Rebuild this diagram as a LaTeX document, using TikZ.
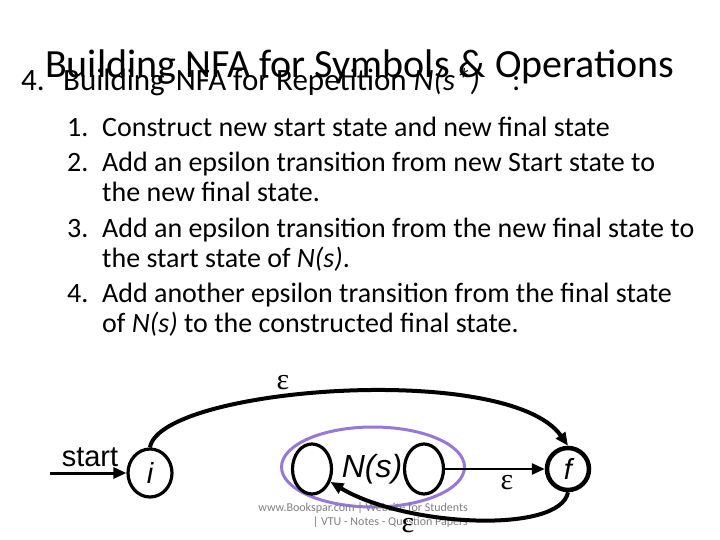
\documentclass[tikz,border=0pt]{standalone}
\usepackage{fontspec}
\setmainfont{Carlito}
\newfontfamily\arialfont{Liberation Sans}
\newfontfamily\greekfont{Liberation Serif}
\usetikzlibrary{arrows.meta,shapes.geometric}
\definecolor{nsring}{RGB}{150,120,220}

\begin{document}
\begin{tikzpicture}[x=1pt, y=1pt, >={Triangle[length=13pt,width=11pt]},
  line/.style={anchor=base west, inner sep=0pt, font=\fontsize{28}{34}\selectfont},
  nfastate/.style={draw, ellipse, line width=3.2pt, inner sep=0pt, font=\arialfont\itshape\fontsize{29}{29}\selectfont},
  eps/.style={inner sep=0pt, font=\greekfont\fontsize{30}{30}\selectfont}]
\useasboundingbox (0,0) rectangle (720,-540);

\node[anchor=base west, inner sep=0pt, font=\fontsize{40}{48}\selectfont] (title) at (45,-78) {Building NFA for Symbols \& Operations};
\node[anchor=base west, inner sep=0pt, font=\fontsize{31}{36}\selectfont] (head) at (21,-91) {\makebox[42pt][l]{4.}Building\hspace{4pt} NFA for Repetition \textit{N(s*)}\hspace{32pt}:};

\node[line] (l1) at (67,-137) {\makebox[35pt][l]{1.}Construct new start state and new final state};
\node[line] (l2) at (67,-172) {\makebox[35pt][l]{2.}Add an epsilon transition from new Start state to};
\node[line] (l2b) at (102,-202) {the new final state.};
\node[line] (l3) at (67,-237) {\makebox[35pt][l]{3.}Add an epsilon transition from the new final state to};
\node[line] (l3b) at (102,-267) {the start state of \textit{N(s)}.};
\node[line] (l4) at (67,-302) {\makebox[35pt][l]{4.}Add another epsilon transition from the final state};
\node[line] (l4b) at (102,-332) {of \textit{N(s)} to the constructed final state.};

% automaton
\node[anchor=base, inner sep=0pt, font=\arialfont\fontsize{29}{29}\selectfont] (startlbl) at (90,-466) {start};
\coordinate (entry) at (50,-473);
\node[nfastate, minimum width=44pt, minimum height=48pt] (i) at (150,-473) {i};
\node[draw=nsring, line width=3pt, ellipse, minimum width=183pt, minimum height=80pt] (ring) at (373,-467) {};
\node[nfastate, minimum width=39pt, minimum height=50pt] (ns1) at (312,-469) {};
\node[inner sep=0pt, font=\arialfont\itshape\fontsize{32}{32}\selectfont] (nslbl) at (372,-469) {N(s)};
\node[nfastate, minimum width=39pt, minimum height=50pt] (ns2) at (424,-469) {};
\node[nfastate, line width=4.5pt, minimum width=42pt, minimum height=42pt] (f) at (568,-469) {f};

\node[align=right, anchor=north east, inner sep=0pt, text=gray, font=\fontsize{12}{14}\selectfont] (wmark) at (468,-503) {www.Bookspar.com | Website for Students\\| VTU - Notes - Question Papers};

\draw[->, line width=3pt] (entry) -- (i);
\draw[->, line width=4pt] (i.north) .. controls +(10,60) and +(-60,85) .. (f.north);
\draw[->, line width=2.8pt] (ns2) -- (f);
\draw[->, line width=4pt] (f.south) .. controls +(-8,-42) and +(75,-45) .. (ns1.-35);

\node[eps] (e1) at (283,-383) {ε};
\node[eps] (e2) at (507,-483) {ε};
\node[eps] (e3) at (408,-526) {ε};
\end{tikzpicture}
\end{document}
